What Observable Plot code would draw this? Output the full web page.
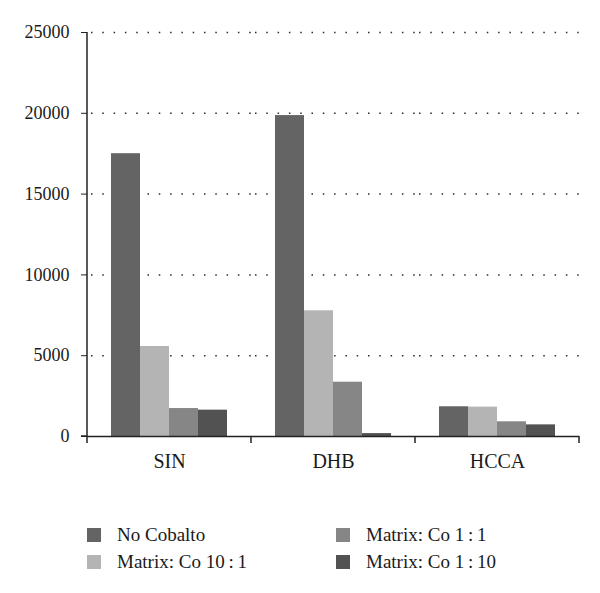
<!DOCTYPE html>
<html>
<head>
<meta charset="utf-8">
<script src="https://cdn.jsdelivr.net/npm/d3@7"></script>
<script src="https://cdn.jsdelivr.net/npm/@observablehq/plot@0.6"></script>
<style>
  html, body { margin: 0; padding: 0; background: #fff; }
  #wrap { width: 600px; height: 593px; position: relative; font-family: "Liberation Serif", "Times New Roman", serif; color: #1a1a1a; }
  .legend { display: grid; grid-template-columns: 249px auto; grid-auto-rows: 27px; padding-left: 87px; padding-top: 41px; }
  .item { display: flex; align-items: center; font-size: 19px; white-space: nowrap; }
  .sw { width: 14px; height: 14px; margin-right: 16px; flex: none; }
</style>
</head>
<body>
<div id="wrap"></div>
<script>
const categories = ["SIN", "DHB", "HCCA"];
const seriesNames = ["No Cobalto", "Matrix: Co 10\u2009:\u20091", "Matrix: Co 1\u2009:\u20091", "Matrix: Co 1\u2009:\u200910"];
const seriesColors = ["#646464", "#b4b4b4", "#868686", "#525252"];
const noCobalto = [17500, 19860, 1840];
const co10to1 = [5570, 7780, 1820];
const co1to1 = [1730, 3360, 910];
const co1to10 = [1630, 180, 720];
const yTicks = [0, 5000, 10000, 15000, 20000, 25000];

const seriesValues = [noCobalto, co10to1, co1to1, co1to10];
const data = categories.flatMap((g, i) =>
  seriesNames.map((s, j) => ({group: g, series: s, value: seriesValues[j][i]}))
);

const chart = Plot.plot({
  width: 600,
  height: 480,
  marginLeft: 86,
  marginRight: 21,
  marginTop: 32,
  marginBottom: 44,
  style: {fontFamily: "'Liberation Serif', 'Times New Roman', serif", fontSize: "18px", color: "#1a1a1a", background: "white", overflow: "visible"},
  fx: {domain: categories, padding: 0, label: null},
  x: {domain: seriesNames, paddingInner: 0, paddingOuter: 0.77, axis: null},
  y: {domain: [0, 25000], label: null},
  color: {domain: seriesNames, range: seriesColors},
  marks: [
    Plot.ruleY(yTicks.filter(v => v > 0), {stroke: "#2a2a2a", strokeWidth: 1.5, strokeDasharray: "1.5 9.8", strokeDashoffset: -4}),
    Plot.barY(data, {fx: "group", x: "series", y: "value", fill: "series"}),
    Plot.ruleY([0], {stroke: "#222", strokeWidth: 1.5}),
    Plot.axisY({ticks: yTicks, tickSize: 6, tickPadding: 12, tickFormat: d => String(d), fontSize: 18, label: null, stroke: "#222"}),
    Plot.axisFx({anchor: "bottom", tickSize: 0, tickPadding: 17, fontSize: 20, label: null})
  ]
});

document.getElementById("wrap").appendChild(chart);

// axis decorations drawn from Plot's own scales
const svg = d3.select(chart.tagName.toLowerCase() === "svg" ? chart : chart.querySelector("svg"));
const fxS = chart.scale("fx");
const yS = chart.scale("y");
const bw = fxS.bandwidth != null ? fxS.bandwidth : (fxS.range[1] - fxS.range[0]) / categories.length;
const starts = categories.map(c => fxS.apply(c));
const bounds = starts.concat([starts[starts.length - 1] + bw]);
const y0 = yS.apply(0), yTop = yS.apply(yTicks[yTicks.length - 1]);
const g = svg.append("g").attr("stroke", "#222").attr("stroke-width", 1.5);
g.append("line").attr("x1", bounds[0]).attr("x2", bounds[0]).attr("y1", y0).attr("y2", yTop);
g.append("line").attr("x1", bounds[0] - 6).attr("x2", bounds[0]).attr("y1", y0).attr("y2", y0);
bounds.forEach(b => g.append("line").attr("x1", b).attr("x2", b).attr("y1", y0).attr("y2", y0 + 7));

// legend
const legend = document.createElement("div");
legend.className = "legend";
const order = [0, 2, 1, 3];
order.forEach(j => {
  const it = document.createElement("div");
  it.className = "item";
  const sw = document.createElement("span");
  sw.className = "sw";
  sw.style.background = seriesColors[j];
  it.appendChild(sw);
  it.appendChild(document.createTextNode(seriesNames[j]));
  legend.appendChild(it);
});
document.getElementById("wrap").appendChild(legend);
</script>
</body>
</html>
